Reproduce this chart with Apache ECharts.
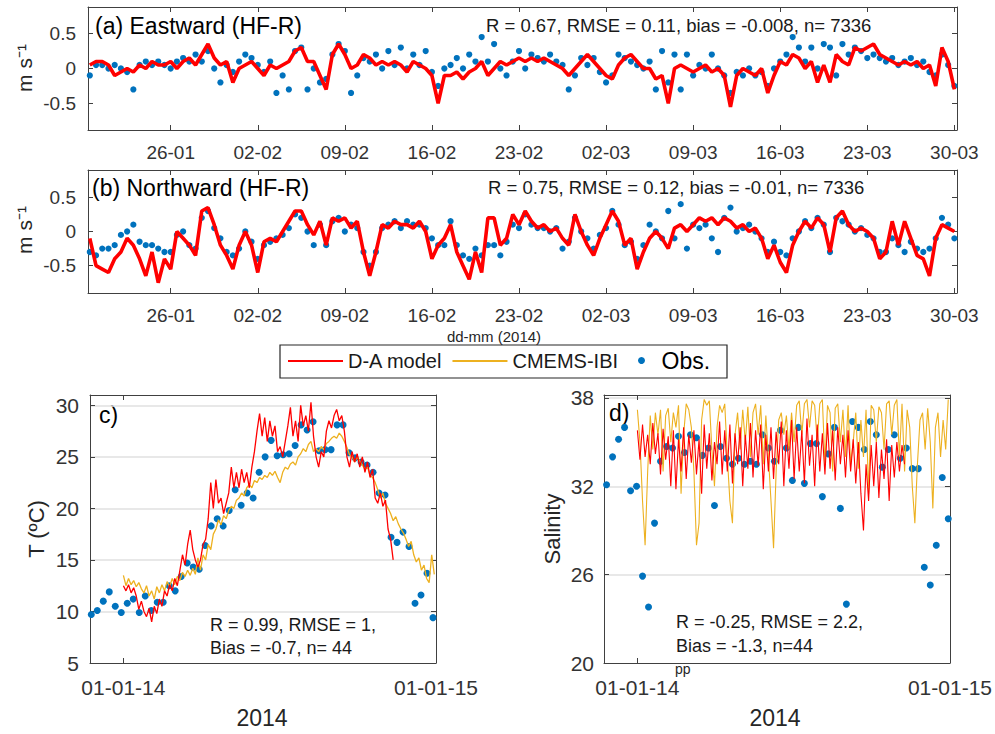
<!DOCTYPE html>
<html>
<head>
<meta charset="utf-8">
<title>HF-R currents, temperature and salinity 2014</title>
<script src="https://cdn.jsdelivr.net/npm/echarts@6/dist/echarts.min.js"></script>
<style>
  html, body { margin: 0; padding: 0; background: #fff; }
  #chart { width: 995px; height: 734px; }
</style>
</head>
<body>
<div id="chart"></div>
<script>
// ---- data ----
// (a)/(b): HF radar currents, one value every 12 h from 19-01-2014 12:00 (x = days since 01-01-2014)
const hfStartDay = 18.5;
const hfStepDay = 0.5;
const hfTickDays = [25, 32, 39, 46, 53, 60, 67, 74, 81, 88];
const hfTickLabels = ['26-01', '02-02', '09-02', '16-02', '23-02', '02-03', '09-03', '16-03', '23-03', '30-03'];
const velTicks = [-0.5, 0, 0.5];
const velTickLabels = ['-0.5', '0', '0.5'];

const eastModel = [
  0.05, 0.1, 0.1, 0.05, -0.1, -0.05, 0.0, -0.05, 0.05, 0.0,
  0.1, 0.05, 0.05, 0.1, 0.0, 0.1, 0.15, 0.05, 0.2, 0.35,
  0.15, 0.05, 0.1, -0.2, 0.0, 0.05, 0.1, 0.0, -0.1, 0.05,
  0.0, 0.05, 0.1, 0.25, 0.3, 0.1, 0.1, -0.1, -0.3, 0.2,
  0.35, 0.2, 0.0, 0.05, 0.2, 0.15, 0.05, 0.1, 0.05, 0.1,
  0.05, -0.05, 0.1, 0.05, 0.0, -0.1, -0.5, -0.1, -0.1, -0.05,
  -0.15, -0.05, 0.0, 0.1, -0.1, 0.0, 0.1, 0.05, 0.1, 0.15,
  0.1, 0.15, 0.1, 0.15, 0.1, 0.05, 0.0, -0.1, 0.0, 0.1,
  0.2, 0.1, 0.0, -0.1, -0.15, 0.05, 0.15, 0.2, 0.1, 0.0,
  0.0, -0.15, -0.1, -0.5, 0.0, 0.05, 0.0, -0.05, 0.0, 0.05,
  -0.05, 0.0, -0.1, -0.55, -0.1, 0.0, -0.05, -0.1, 0.0, -0.35,
  -0.1, 0.1, 0.05, 0.2, 0.15, 0.0, 0.1, -0.2, 0.05, -0.2,
  0.2, 0.1, 0.05, 0.3, 0.25, 0.3, 0.35, 0.2, 0.15, 0.1,
  0.05, 0.1, 0.05, 0.1, 0.0, 0.05, -0.25, 0.3, 0.1, -0.3
];
const eastObs = [
  -0.1, 0.05, 0.05, 0.0, 0.05, 0.0, -0.05, -0.3, 0.05, 0.1,
  0.05, 0.1, 0.05, 0.0, 0.1, 0.15, 0.1, 0.2, 0.1, 0.25,
  0.0, -0.2, 0.05, -0.05, 0.1, 0.2, 0.15, 0.05, -0.05, 0.1,
  -0.35, -0.1, -0.3, 0.25, 0.3, -0.3, 0.0, -0.2, -0.15, 0.2,
  0.35, 0.25, -0.35, -0.1, 0.15, 0.1, 0.2, 0.0, 0.25, 0.05,
  0.3, 0.0, 0.2, 0.05, 0.25, -0.05, -0.25, 0.0, 0.05, 0.15,
  0.0, 0.2, 0.1, 0.45, 0.1, 0.35, 0.0, -0.1, 0.1, 0.25,
  0.0, 0.2, 0.15, 0.1, 0.2, 0.1, 0.05, -0.3, -0.1, 0.15,
  0.05, 0.15, -0.05, -0.2, -0.1, 0.2, 0.15, 0.1, 0.05, 0.0,
  0.1, -0.3, 0.25, -0.2, 0.2, -0.3, 0.2, -0.1, 0.05, 0.0,
  0.2, 0.0, -0.1, -0.35, -0.05, -0.1, 0.0, -0.1, -0.05, -0.25,
  0.0, 0.1, 0.2, 0.45, 0.3, 0.1, 0.3, 0.0, 0.35, 0.3,
  -0.1, 0.35, 0.2, 0.3, 0.25, 0.15, 0.2, 0.15, 0.1, 0.15,
  0.05, 0.1, 0.15, 0.05, 0.1, -0.05, -0.1, 0.2, 0.05, -0.25
];
const northModel = [
  -0.1, -0.5, -0.55, -0.6, -0.4, -0.3, -0.1, -0.2, -0.4, -0.65,
  -0.3, -0.75, -0.4, -0.55, 0.0, -0.1, -0.2, -0.35, 0.3, 0.35,
  0.1, -0.2, -0.35, -0.55, -0.2, 0.0, -0.2, -0.6, -0.15, -0.1,
  -0.15, 0.0, 0.15, 0.3, 0.3, 0.1, -0.05, 0.15, -0.2, 0.2,
  0.15, 0.2, 0.05, 0.15, -0.3, -0.65, -0.3, 0.1, 0.05, 0.15,
  0.1, 0.1, 0.05, 0.15, 0.0, -0.4, -0.2, -0.1, 0.1, -0.3,
  -0.5, -0.7, -0.3, -0.6, 0.2, 0.2, -0.2, -0.1, 0.25, 0.1,
  0.3, 0.15, 0.05, 0.1, 0.0, 0.05, -0.1, -0.2, 0.25, 0.0,
  -0.2, -0.35, -0.1, 0.1, 0.3, 0.15, -0.2, -0.1, -0.55, -0.3,
  -0.1, 0.0, -0.1, -0.25, 0.05, 0.1, 0.0, 0.1, 0.2, 0.15,
  0.2, 0.1, 0.2, 0.15, 0.05, 0.1, 0.0, 0.05, -0.1, -0.4,
  -0.2, -0.45, -0.6, -0.2, 0.0, 0.15, 0.05, 0.2, 0.1, -0.3,
  0.2, 0.3, 0.1, 0.0, 0.05, 0.0, -0.1, -0.4, -0.3, 0.15,
  -0.2, 0.15, -0.1, -0.35, -0.4, -0.65, -0.1, 0.1, 0.05, 0.0
];
const northObs = [
  -0.3, -0.35, -0.25, -0.25, -0.2, -0.05, 0.0, 0.1, -0.15, -0.2,
  -0.2, -0.25, -0.3, -0.3, -0.05, 0.0, -0.2, -0.25, 0.2, 0.3,
  0.05, -0.1, -0.3, -0.35, -0.25, 0.0, -0.15, -0.4, -0.2, -0.15,
  -0.1, -0.05, 0.05, 0.25, 0.2, 0.0, -0.2, 0.1, -0.2, 0.15,
  0.2, 0.0, 0.1, 0.05, -0.3, -0.5, -0.3, 0.05, 0.1, 0.15,
  0.05, 0.15, 0.1, 0.1, 0.05, -0.1, -0.2, -0.2, 0.15, -0.2,
  -0.35, -0.4, -0.25, -0.35, -0.2, -0.2, -0.35, -0.15, 0.1, 0.05,
  0.25, 0.1, 0.05, 0.05, 0.0, 0.05, -0.25, -0.15, 0.2, 0.0,
  -0.1, -0.25, -0.05, 0.05, 0.3, 0.1, -0.2, -0.15, -0.4, -0.2,
  0.1, 0.0, -0.1, 0.3, -0.1, 0.4, -0.25, 0.1, 0.05, 0.1,
  -0.1, -0.3, 0.2, 0.35, 0.0, 0.05, 0.1, 0.0, -0.1, -0.3,
  -0.15, -0.3, -0.35, -0.1, 0.0, 0.15, 0.05, 0.2, 0.1, -0.3,
  0.2, 0.15, 0.1, 0.0, 0.05, -0.05, -0.1, -0.3, -0.3, -0.1,
  -0.2, -0.3, -0.15, -0.25, -0.3, -0.25, -0.1, 0.2, 0.1, -0.1
];

// (c)/(d): x = days since 01-01-2014, models every 3 days, obs weekly
const yearTickDays = [0, 365];
const yearTickLabels = ['01-01-14', '01-01-15'];
const modelStartDay = 0;
const modelStepDay = 3;
const obsStepDay = 7;
const tempTicks = [5, 10, 15, 20, 25, 30];
const salTicks = [20, 26, 32, 38];

const tempModel = [
  12.5, 12.0, 12.6, 11.8, 12.3, 11.5, 10.2, 11.0, 10.0, 9.5,
  10.3, 9.0, 10.5, 9.8, 11.2, 10.5, 12.0, 11.5, 12.6, 12.0,
  13.2, 12.5, 14.0, 15.5, 14.5, 16.5, 17.9, 16.0, 15.0, 14.3,
  15.0, 16.5, 17.0, 19.0, 22.5, 20.0, 22.8, 20.5, 21.0, 19.5,
  20.5, 21.5, 24.0, 22.0, 23.5, 22.0, 23.8, 22.5, 23.5, 22.0,
  24.0, 25.5, 27.5, 29.2, 27.0, 28.8, 26.5, 28.5, 27.0, 28.0,
  25.5, 26.0, 25.0, 26.5, 28.0, 29.8, 27.0, 28.5, 26.5, 30.0,
  28.0, 29.0, 27.5, 30.3, 27.0, 25.0, 24.0, 25.5, 25.0, 27.5,
  28.5, 27.8, 29.0, 29.6, 28.5, 29.0, 27.5, 25.0, 24.0, 25.5,
  24.5, 25.3, 24.0, 25.0, 23.5, 24.5, 23.0, 23.8, 21.0, 20.5,
  21.5, 20.2, 20.8, 18.0, 17.0, 15.0
];
const tempCmems = [
  13.5, 12.5, 13.2, 12.6, 13.0, 12.4, 12.8, 12.2, 11.8, 12.5,
  11.5, 12.0, 11.2, 12.4, 11.8, 12.6, 12.0, 12.9, 12.4, 13.2,
  12.6, 13.4, 13.0, 13.8, 13.4, 14.0, 13.5, 14.2, 13.6, 15.2,
  14.0, 15.5, 15.0, 16.5, 16.0, 17.5, 18.0, 18.9, 18.4, 19.3,
  19.0, 19.8, 20.2, 20.0, 20.8, 21.0, 21.5, 21.2, 22.0, 22.3,
  22.0, 22.7, 22.5, 23.0, 22.8, 23.2, 23.0, 23.5, 23.2, 23.6,
  23.0, 22.5, 23.5, 24.0, 23.8, 24.3, 24.5, 24.2, 25.0, 25.3,
  25.8, 25.5, 26.2, 26.5, 25.5, 25.8, 25.5, 26.0, 25.7, 26.3,
  26.5, 26.8, 27.0, 26.8, 27.3, 27.0, 26.5, 25.9, 25.2, 25.0,
  24.5, 25.0, 24.6, 24.2, 23.8, 24.0, 23.2, 23.0, 22.5, 21.8,
  21.0, 21.5, 20.5, 20.0, 19.5, 18.8, 19.2, 18.5, 18.0, 17.6,
  17.0, 16.3, 16.8, 15.5, 14.8, 15.2, 14.0, 14.5, 13.2, 12.8,
  15.5, 13.6
];
const tempObsStartDay = -37.5;
const tempObs = [
  9.7, 10.1, 11.0, 11.9, 10.5, 9.9, 10.8, 11.2, 9.9, 11.5,
  10.1, 10.9, 10.9, 12.5, 12.0, 13.4, 14.7, 14.3, 14.1, 16.4,
  18.3, 19.0, 18.3, 19.8, 21.8, 20.3, 21.5, 21.0, 23.5, 25.0,
  26.6, 25.1, 25.2, 25.3, 26.1, 28.1, 27.6, 28.4, 25.6, 25.7,
  25.7, 28.1, 28.1, 25.4, 24.9, 24.5, 24.2, 23.5, 21.5, 21.3,
  17.2, 16.7, 17.7, 16.3, 10.8, 11.6, 13.7, 9.4
];

const salModel = [
  35.8, 33.8, 36.2, 34.0, 35.5, 33.5, 36.3, 34.2, 35.6, 32.8,
  35.9, 33.8, 35.4, 32.0, 35.8, 31.8, 35.2, 33.0, 36.0, 32.5,
  35.5, 33.6, 35.8, 32.8, 35.2, 31.5, 36.2, 33.2, 35.6, 32.4,
  35.0, 33.5, 36.4, 32.8, 35.8, 33.0, 36.2, 32.2, 35.6, 33.5,
  36.0, 32.0, 35.5, 33.2, 36.3, 32.6, 35.8, 33.4, 36.2, 31.8,
  35.5, 33.0, 36.0, 32.5, 35.7, 33.5, 36.4, 32.0, 35.8, 33.2,
  36.5, 32.5, 36.0, 33.0, 35.8, 32.2, 36.6, 33.4, 35.5, 32.0,
  36.2, 33.0, 35.6, 32.8, 36.3, 33.2, 35.8, 32.4, 36.0, 33.5,
  35.5, 32.6, 35.8, 33.0, 35.2, 32.2, 35.0, 31.5, 29.0, 33.5,
  31.0, 34.8, 32.0, 35.0, 31.2, 34.5, 32.5, 35.2, 31.0, 34.8,
  32.6, 35.0, 33.0, 34.8, 33.5
];
const salCmems = [
  37.2, 35.0, 31.0, 28.0, 33.0, 36.8, 34.5, 37.0, 35.5, 37.2,
  33.0, 36.8, 37.3, 35.0, 37.0, 36.0, 37.5, 31.5, 35.5, 37.6,
  37.2, 36.0, 33.0, 28.0, 29.5, 36.5, 37.9, 37.5, 37.8, 34.5,
  32.0, 36.0, 37.5, 37.0, 37.6, 34.0, 31.0, 29.5, 35.5, 37.0,
  34.5, 37.2, 35.0, 37.4, 34.0, 37.0, 37.6, 35.5, 37.5, 33.5,
  36.8, 34.0, 31.0, 27.8, 33.0, 36.5, 37.0, 35.5, 36.8, 34.5,
  37.0, 35.0, 37.5, 37.8, 35.5, 37.6, 37.9, 36.0, 37.8, 37.5,
  35.0, 37.6, 37.9, 33.5, 37.5, 37.0, 33.0, 37.3, 37.6, 35.0,
  37.2, 34.0, 37.5, 33.5, 35.0, 37.0, 33.2, 36.5, 34.0, 37.2,
  31.5, 37.5, 37.2, 35.0, 37.4, 37.0, 34.5, 37.6, 37.8, 35.5,
  37.5, 37.9, 34.0, 37.6, 33.0, 37.2, 36.0, 32.0, 29.5, 33.5,
  36.5, 37.0, 34.5, 37.3, 35.0, 30.5, 36.0, 37.0, 34.0, 36.5,
  34.5, 37.9
];
const salObsStartDay = -36;
const salObs = [
  32.1, 34.0, 35.2, 36.0, 31.7, 32.0, 25.9, 23.8, 29.5, 33.7,
  34.7, 34.6, 35.4, 34.3, 35.5, 35.3, 34.1, 34.6, 30.7, 34.7,
  33.9, 33.5, 33.9, 33.5, 33.7, 33.5, 35.5, 34.6, 33.7, 35.8,
  34.6, 32.4, 36.0, 32.2, 34.9, 34.9, 31.3, 34.2, 36.0, 30.5,
  24.0, 36.4, 36.0, 34.5, 36.4, 35.5, 33.3, 34.5, 35.5, 33.9,
  34.6, 33.2, 33.2, 26.5, 25.3, 28.0, 32.6, 29.8
];

// ---- styling ----
const FONT = '"Liberation Sans", Arial, sans-serif';
const AXIS_COLOR = '#404040';
const LABEL_COLOR = '#333333';
const RED = '#ff0000';
const ORANGE = '#edb120';
const BLUE = '#0072bd';

const pairs = (start, step, values) => values.map((v, i) => [start + step * i, v]);

const labelFor = (ticks, labels) => (value) => {
  let best = 0;
  ticks.forEach((t, i) => { if (Math.abs(t - value) < Math.abs(ticks[best] - value)) best = i; });
  return labels[best];
};

// each panel gets a full MATLAB-style box: bottom/top x axes and left/right y axes, ticks inside
function boxAxes(gridIndex, x, y) {
  const line = { show: true, onZero: false, lineStyle: { color: AXIS_COLOR, width: 1 } };
  const xBase = {
    type: 'value', gridIndex, min: x.min, max: x.max,
    axisLine: line, splitLine: { show: false },
    axisTick: { show: true, inside: true, length: 5, customValues: x.ticks, lineStyle: { color: AXIS_COLOR } },
  };
  const yBase = {
    type: 'value', gridIndex, min: y.min, max: y.max, interval: y.interval,
    axisLine: line,
    axisTick: { show: true, inside: true, length: 5, customValues: y.tickMarks || y.ticks, lineStyle: { color: AXIS_COLOR } },
  };
  return {
    xAxes: [
      Object.assign({}, xBase, {
        position: 'bottom',
        axisLabel: {
          customValues: x.ticks, formatter: labelFor(x.ticks, x.labels),
          fontSize: x.fontSize, fontFamily: FONT, color: LABEL_COLOR, margin: x.margin,
        },
      }),
      Object.assign({}, xBase, { position: 'top', axisLabel: { show: false } }),
    ],
    yAxes: [
      Object.assign({}, yBase, {
        position: 'left',
        axisLabel: {
          customValues: y.ticks, formatter: labelFor(y.ticks, y.labels),
          fontSize: y.fontSize, fontFamily: FONT, color: LABEL_COLOR, margin: y.margin,
        },
        splitLine: { show: !!y.grid, lineStyle: { color: '#e1e1e1', width: 1.5 } },
      }),
      Object.assign({}, yBase, { position: 'right', axisLabel: { show: false }, splitLine: { show: false } }),
    ],
  };
}

const hfX = { min: 18.354, max: 88.21, ticks: hfTickDays, labels: hfTickLabels, fontSize: 19, margin: 13 };
const yearX = { min: -39, max: 365, ticks: yearTickDays, labels: yearTickLabels, fontSize: 21, margin: 14 };

const panels = [
  boxAxes(0, hfX, { min: -0.88, max: 0.88, ticks: velTicks, labels: velTickLabels, fontSize: 19, margin: 12 }),
  boxAxes(1, hfX, { min: -0.9, max: 0.9, ticks: velTicks, labels: velTickLabels, fontSize: 19, margin: 12 }),
  boxAxes(2, yearX, { min: 5, max: 31, interval: 5, ticks: tempTicks, labels: tempTicks.map(String),
    tickMarks: tempTicks.slice(1), fontSize: 21, margin: 11, grid: true }),
  boxAxes(3, yearX, { min: 20, max: 38.2, interval: 6, ticks: salTicks, labels: salTicks.map(String),
    tickMarks: salTicks.slice(1), fontSize: 21, margin: 10, grid: true }),
];

const lineSeries = (name, data, axis, color, width) => ({
  type: 'line', name, data, xAxisIndex: axis, yAxisIndex: axis,
  symbol: 'none', lineStyle: { color, width }, itemStyle: { color },
});
const dotSeries = (data, axis, size) => ({
  type: 'scatter', name: 'Obs.', data, xAxisIndex: axis, yAxisIndex: axis,
  symbol: 'circle', symbolSize: size, itemStyle: { color: BLUE, opacity: 1 },
});

const text = (str, x, y, size, extra) => ({
  type: 'text', x, y,
  style: Object.assign({ text: str, font: size + 'px ' + FONT, fill: '#1a1a1a', align: 'left', verticalAlign: 'middle' }, extra || {}),
});

const option = {
  animation: false,
  backgroundColor: '#ffffff',
  grid: [
    { left: 88, top: 7, width: 869, height: 123 },
    { left: 88, top: 170, width: 869, height: 123 },
    { left: 90, top: 395, width: 346, height: 268 },
    { left: 604, top: 395, width: 346, height: 268 },
  ],
  xAxis: panels.flatMap(p => p.xAxes),
  yAxis: panels.flatMap(p => p.yAxes),
  legend: [
    {
      data: [{ name: 'D-A model', icon: 'rect' }, { name: 'CMEMS-IBI', icon: 'rect' }],
      left: 288, top: 351, padding: 0,
      itemWidth: 55, itemHeight: 2, itemGap: 10, selectedMode: false,
      textStyle: { fontSize: 20, fontFamily: FONT, color: '#1a1a1a' },
    },
    {
      data: [{ name: 'Obs.', icon: 'circle' }], left: 638, top: 349, padding: 0,
      itemWidth: 30, itemHeight: 7, selectedMode: false,
      textStyle: { fontSize: 23, fontFamily: FONT, color: '#000' },
    },
  ],
  graphic: [
    { type: 'rect', shape: { x: 280, y: 345, width: 447, height: 33 }, style: { fill: 'none', stroke: '#262626', lineWidth: 1.2 } },
    text('(a) Eastward (HF-R)', 95, 26, 23, { fill: '#000' }),
    text('R = 0.67, RMSE = 0.11, bias = -0.008, n= 7336', 486, 25, 18.5),
    text('(b) Northward (HF-R)', 92, 188, 23, { fill: '#000' }),
    text('R = 0.75, RMSE = 0.12, bias = -0.01, n= 7336', 488, 187, 18.5),
    text('m s\u207B\u00B9', 24, 68, 21, { align: 'center', fill: '#262626' }),
    text('m s\u207B\u00B9', 24, 230, 21, { align: 'center', fill: '#262626' }),
    text('dd-mm (2014)', 494, 336, 15, { align: 'center', fill: '#262626' }),
    text('c)', 99, 415, 23, { fill: '#000' }),
    text('d)', 609, 413, 23, { fill: '#000' }),
    text('R = 0.99, RMSE = 1,', 210, 625, 18),
    text('Bias = -0.7, n= 44', 210, 648, 18),
    text('R = -0.25, RMSE = 2.2,', 676, 622, 18),
    text('Bias = -1.3, n=44', 676, 646, 18),
    text('pp', 675, 669, 14, { fill: '#262626' }),
    text('2014', 262, 718, 23, { align: 'center', fill: '#262626' }),
    text('2014', 775, 718, 23, { align: 'center', fill: '#262626' }),
    text('T (\u00BAC)', 36, 529, 22, { align: 'center', fill: '#262626' }),
    text('Salinity', 552, 529, 22, { align: 'center', fill: '#262626' }),
  ],
  series: [
    lineSeries('D-A model', pairs(hfStartDay, hfStepDay, eastModel), 0, RED, 3.6),
    dotSeries(pairs(hfStartDay, hfStepDay, eastObs), 0, 6.2),
    lineSeries('D-A model', pairs(hfStartDay, hfStepDay, northModel), 2, RED, 3.6),
    dotSeries(pairs(hfStartDay, hfStepDay, northObs), 2, 6.2),
    lineSeries('CMEMS-IBI', pairs(modelStartDay, modelStepDay, tempCmems), 4, ORANGE, 1.3),
    lineSeries('D-A model', pairs(modelStartDay, modelStepDay, tempModel), 4, RED, 1.3),
    dotSeries(pairs(tempObsStartDay, obsStepDay, tempObs), 4, 7),
    lineSeries('CMEMS-IBI', pairs(modelStartDay, modelStepDay, salCmems), 6, ORANGE, 1.1),
    lineSeries('D-A model', pairs(modelStartDay, modelStepDay, salModel), 6, RED, 1.1),
    dotSeries(pairs(salObsStartDay, obsStepDay, salObs), 6, 7),
  ],
};

// rotate the vertical axis titles
[5, 6, 17, 18].forEach(i => { option.graphic[i].rotation = Math.PI / 2; });

const chart = echarts.init(document.getElementById('chart'), null, { renderer: 'svg' });
chart.setOption(option);
</script>
</body>
</html>
